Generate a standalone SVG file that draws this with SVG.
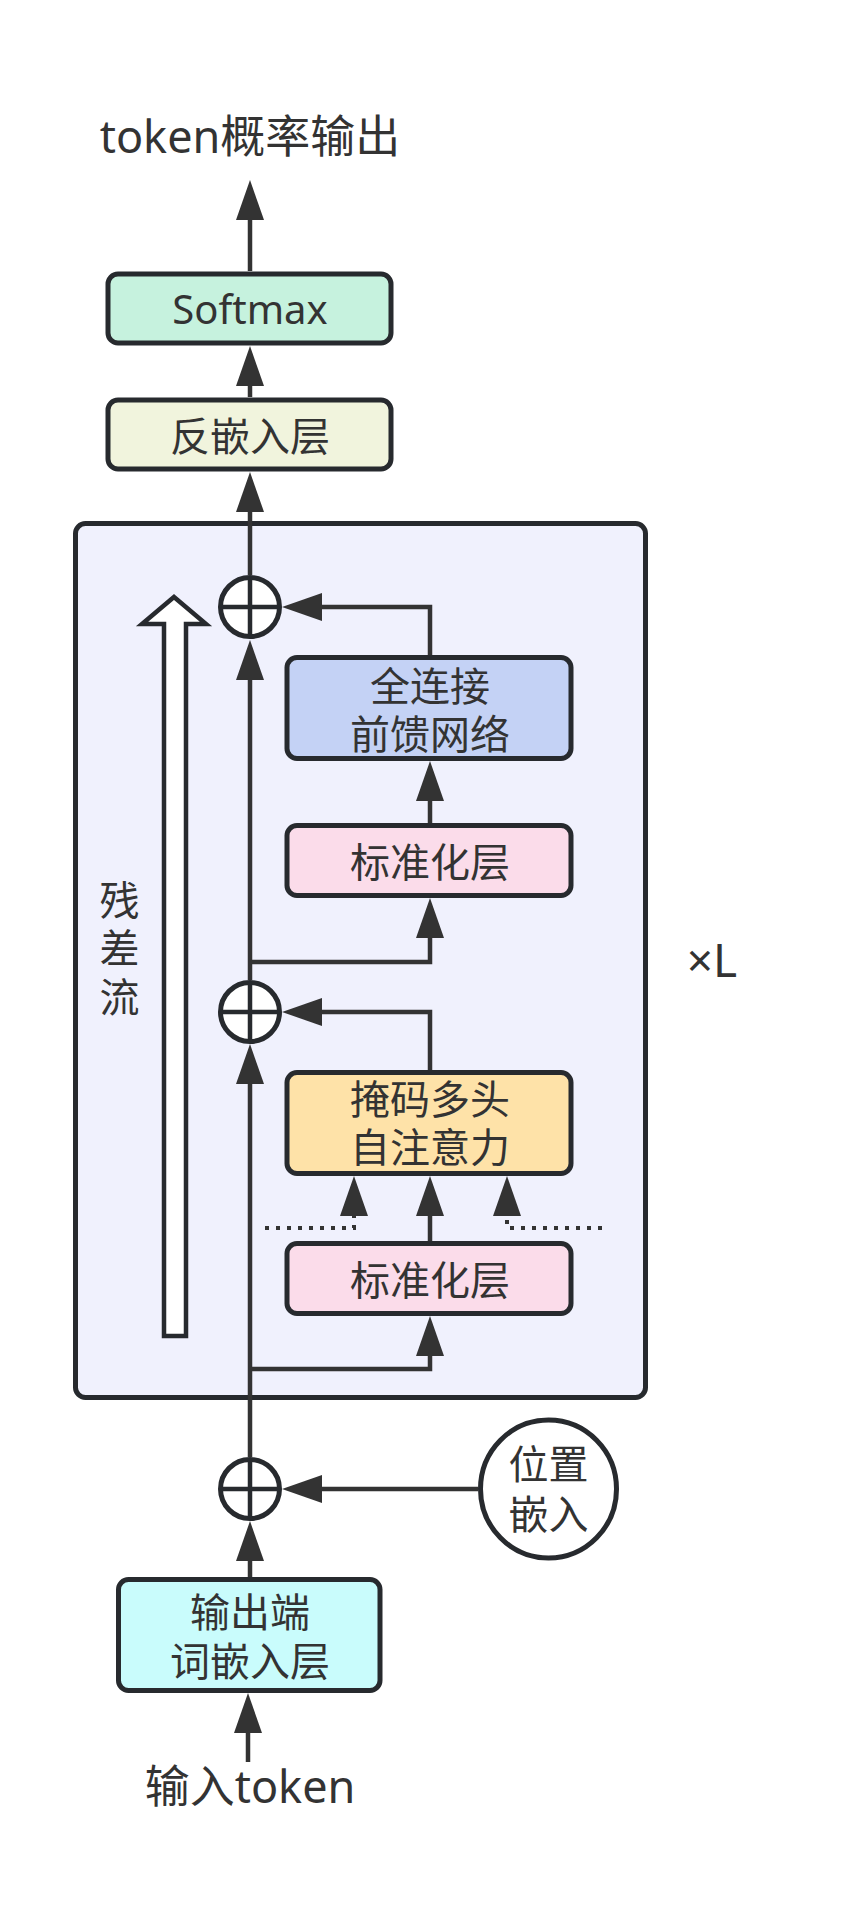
<svg xmlns="http://www.w3.org/2000/svg" width="847" height="1922" viewBox="0 0 847 1922">
<style>
.box{stroke:#272a2e;stroke-width:5}
.t{font-family:"Noto Sans","Noto Sans CJK SC",sans-serif;fill:#333333;text-anchor:middle}
.c{font-family:"Noto Sans CJK SC","Noto Sans",sans-serif}
.tb{font-size:40px}
.tl{font-size:45px}
.ln{fill:none;stroke:#333333;stroke-width:4.5}
.dot{fill:none;stroke:#333333;stroke-width:4;stroke-dasharray:4 7}
.plus{stroke:#272a2e;stroke-width:4.5}
.circ{fill:#ffffff;stroke:#272a2e;stroke-width:5}
</style>
<defs>
<marker id="ah" viewBox="0 0 40 28" refX="0" refY="14" markerWidth="40" markerHeight="28" markerUnits="userSpaceOnUse" orient="auto">
<path d="M0,0 L40,14 L0,28 Z" fill="#333333"/>
</marker>
</defs>
<rect width="847" height="1922" fill="#ffffff"/>

<g id="container">
<rect x="75.5" y="523.5" width="570" height="874" rx="10" fill="#f0f1fd" stroke="#272a2e" stroke-width="5"/>
</g>

<g id="title"><text class="t tl" x="250" y="153">token概率输出</text></g>

<g id="softmax">
<rect class="box" x="108" y="274" width="283" height="69" rx="10" fill="#c6f2de"/>
<text class="t tb" x="250" y="324">Softmax</text>
</g>

<g id="unembed">
<rect class="box" x="108" y="400" width="283" height="69" rx="10" fill="#f1f4dd"/>
<text class="t c tb" x="250" y="451">反嵌入层</text>
</g>

<g id="residual">
<path d="M174,597 L206,624 L186,624 L186,1336 L164,1336 L164,624 L142,624 Z" fill="#ffffff" stroke="#272a2e" stroke-width="4.5" stroke-linejoin="miter"/>
<text class="t c tb" x="119.5" y="915">残<tspan x="119.5" dy="48">差</tspan><tspan x="119.5" dy="49">流</tspan></text>
</g>

<g id="ffn">
<rect class="box" x="287" y="657.5" width="284" height="101" rx="10" fill="#c4d2f5"/>
<text class="t c tb" x="430" y="701">全连接<tspan x="430" dy="48">前馈网络</tspan></text>
</g>

<g id="norm1">
<rect class="box" x="287" y="825.5" width="284" height="70" rx="10" fill="#fbdcea"/>
<text class="t c tb" x="430" y="876.5">标准化层</text>
</g>

<g id="mha">
<rect class="box" x="287" y="1072.5" width="284" height="101" rx="10" fill="#fee2a8"/>
<text class="t c tb" x="430" y="1114">掩码多头<tspan x="430" dy="48">自注意力</tspan></text>
</g>

<g id="norm2">
<rect class="box" x="287" y="1243.5" width="284" height="70" rx="10" fill="#fbdcea"/>
<text class="t c tb" x="430" y="1295">标准化层</text>
</g>

<g id="repeat"><text class="t" x="712" y="977" font-size="46">×L</text></g>

<g id="embed">
<rect class="box" x="118.5" y="1579.5" width="261.5" height="111" rx="10" fill="#c9fcfc"/>
<text class="t c tb" x="250" y="1627">输出端<tspan x="250" dy="49">词嵌入层</tspan></text>
</g>

<g id="posembed">
<ellipse class="circ" cx="548.5" cy="1489" rx="68" ry="69"/>
<text class="t c tb" x="548.5" y="1479">位置<tspan x="548.5" dy="50">嵌入</tspan></text>
</g>

<g id="input"><text class="t tl" x="250" y="1803">输入token</text></g>

<g id="add1">
<circle class="circ" cx="250" cy="607" r="29.5"/>
<path class="plus" d="M250,577.5 V636.5 M220.5,607 H279.5"/>
</g>
<g id="add2">
<circle class="circ" cx="250" cy="1012" r="29.5"/>
<path class="plus" d="M250,982.5 V1041.5 M220.5,1012 H279.5"/>
</g>
<g id="add3">
<circle class="circ" cx="250" cy="1489" r="29.5"/>
<path class="plus" d="M250,1459.5 V1518.5 M220.5,1489 H279.5"/>
</g>

<g id="connectors">
<path class="ln" d="M250,271 V220" marker-end="url(#ah)"/>
<path class="ln" d="M250,397 V386" marker-end="url(#ah)"/>
<path class="ln" d="M250,575 V512" marker-end="url(#ah)"/>
<path class="ln" d="M250,980 V680" marker-end="url(#ah)"/>
<path class="ln" d="M250,1457 V1084" marker-end="url(#ah)"/>
<path class="ln" d="M250,962 H430 V938" marker-end="url(#ah)"/>
<path class="ln" d="M250,1369 H430 V1356" marker-end="url(#ah)"/>
<path class="ln" d="M430,655 V607 H322" marker-end="url(#ah)"/>
<path class="ln" d="M430,823 V801" marker-end="url(#ah)"/>
<path class="ln" d="M430,1070 V1012 H322" marker-end="url(#ah)"/>
<path class="ln" d="M430,1241 V1216" marker-end="url(#ah)"/>
<path class="dot" d="M265,1228 H354 V1216" marker-end="url(#ah)"/>
<path class="dot" d="M602,1228 H507 V1216" marker-end="url(#ah)"/>
<path class="ln" d="M478,1489 H322" marker-end="url(#ah)"/>
<path class="ln" d="M250,1577 V1561" marker-end="url(#ah)"/>
<path class="ln" d="M248,1762 V1733" marker-end="url(#ah)"/>
</g>
</svg>
